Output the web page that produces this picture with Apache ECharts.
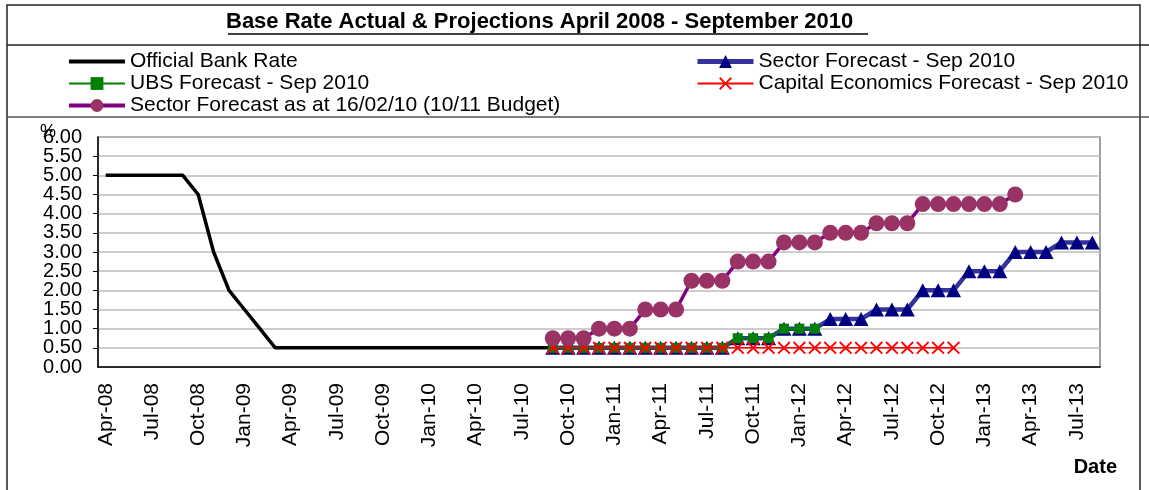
<!DOCTYPE html>
<html>
<head>
<meta charset="utf-8">
<script src="https://cdn.jsdelivr.net/npm/echarts@6/dist/echarts.min.js"></script>
<style>
html, body { margin: 0; padding: 0; background: #fff; }
#baseRateChart { width: 1149px; height: 490px; }
</style>
</head>
<body>
<div id="baseRateChart"></div>
<script>
// month categories, Apr-08 .. Aug-13
var months = [
    "Apr-08","May-08","Jun-08","Jul-08","Aug-08","Sep-08","Oct-08","Nov-08","Dec-08",
    "Jan-09","Feb-09","Mar-09","Apr-09","May-09","Jun-09","Jul-09","Aug-09","Sep-09","Oct-09","Nov-09","Dec-09",
    "Jan-10","Feb-10","Mar-10","Apr-10","May-10","Jun-10","Jul-10","Aug-10","Sep-10","Oct-10","Nov-10","Dec-10",
    "Jan-11","Feb-11","Mar-11","Apr-11","May-11","Jun-11","Jul-11","Aug-11","Sep-11","Oct-11","Nov-11","Dec-11",
    "Jan-12","Feb-12","Mar-12","Apr-12","May-12","Jun-12","Jul-12","Aug-12","Sep-12","Oct-12","Nov-12","Dec-12",
    "Jan-13","Feb-13","Mar-13","Apr-13","May-13","Jun-13","Jul-13","Aug-13"
];
var yTicks = [0, 0.5, 1, 1.5, 2, 2.5, 3, 3.5, 4, 4.5, 5, 5.5, 6];

// Official Bank Rate, from Apr-08
var bankRate = [5, 5, 5, 5, 5, 5, 4.5, 3, 2, 1.5, 1,
    0.5, 0.5, 0.5, 0.5, 0.5, 0.5, 0.5, 0.5, 0.5, 0.5, 0.5, 0.5, 0.5, 0.5, 0.5, 0.5, 0.5, 0.5, 0.5];

// forecasts, all from Sep-10
var forecastStart = "Sep-10";
var sectorSep10 = [0.5, 0.5, 0.5, 0.5, 0.5, 0.5, 0.5, 0.5, 0.5, 0.5, 0.5, 0.5,
    0.75, 0.75, 0.75, 1, 1, 1, 1.25, 1.25, 1.25, 1.5, 1.5, 1.5,
    2, 2, 2, 2.5, 2.5, 2.5, 3, 3, 3, 3.25, 3.25, 3.25];
var ubsSep10 = [0.5, 0.5, 0.5, 0.5, 0.5, 0.5, 0.5, 0.5, 0.5, 0.5, 0.5, 0.5,
    0.75, 0.75, 0.75, 1, 1, 1];
var capEconSep10 = [0.5, 0.5, 0.5, 0.5, 0.5, 0.5, 0.5, 0.5, 0.5, 0.5, 0.5, 0.5, 0.5, 0.5,
    0.5, 0.5, 0.5, 0.5, 0.5, 0.5, 0.5, 0.5, 0.5, 0.5, 0.5, 0.5, 0.5];
var sectorFeb10 = [0.75, 0.75, 0.75, 1, 1, 1, 1.5, 1.5, 1.5, 2.25, 2.25, 2.25,
    2.75, 2.75, 2.75, 3.25, 3.25, 3.25, 3.5, 3.5, 3.5, 3.75, 3.75, 3.75,
    4.25, 4.25, 4.25, 4.25, 4.25, 4.25, 4.5];

function fromMonth(start, values) {
    var i0 = months.indexOf(start);
    return values.map(function (v, i) { return [months[i0 + i], v]; });
}

var crossPath = "path://M0,1L1,0L5,4L9,0L10,1L6,5L10,9L9,10L5,6L1,10L0,9L4,5Z";
var font = "Liberation Sans";
var legendText = { fontFamily: font, fontSize: 21, lineHeight: 19, color: "#000" };
var yMin = yTicks[0], yMax = yTicks[yTicks.length - 1];
var yLabel = { margin: 16, fontSize: 20, color: "#000", fontFamily: font,
    formatter: function (v) { return v.toFixed(2); } };

var dom = document.getElementById("baseRateChart");
var myChart = echarts.init(dom);
var option = {
    animation: false,
    textStyle: { fontFamily: font, color: "#000" },
    title: {
        text: "Base Rate Actual & Projections April 2008 - September 2010",
        left: 226,
        top: 11,
        padding: 0,
        textStyle: { fontFamily: font, fontSize: 22, fontWeight: "bold", color: "#000" }
    },
    legend: [
        {
            orient: "vertical",
            left: 67, top: 51,
            padding: 0,
            itemWidth: 56, itemHeight: 16, itemGap: 1,
            textStyle: legendText,
            data: [
                { name: "Official Bank Rate", itemStyle: { opacity: 0 }, lineStyle: { width: 4 } },
                { name: "UBS Forecast - Sep 2010", lineStyle: { width: 2 } },
                { name: "Sector Forecast as at 16/02/10 (10/11 Budget)", lineStyle: { width: 4 } }
            ]
        },
        {
            orient: "vertical",
            left: 695, top: 51,
            padding: 0,
            itemWidth: 56, itemHeight: 16, itemGap: 1,
            textStyle: legendText,
            data: [
                { name: "Sector Forecast - Sep 2010", lineStyle: { width: 5 } },
                { name: "Capital Economics Forecast - Sep 2010", lineStyle: { width: 2 } }
            ]
        }
    ],
    grid: {
        left: 98, top: 137, width: 1002, height: 230,
        show: true, borderColor: "#808080", borderWidth: 1.5
    },
    xAxis: {
        type: "category",
        data: months,
        boundaryGap: true,
        name: "Date",
        nameLocation: "end",
        nameGap: 17,
        nameTextStyle: { fontFamily: font, fontSize: 20, fontWeight: "bold", color: "#000",
            align: "right", verticalAlign: "top", padding: [90, 0, 0, 0] },
        axisLine: { lineStyle: { color: "#000", width: 1.5 } },
        axisTick: { interval: 2, length: 6, alignWithLabel: false, lineStyle: { color: "#000" } },
        axisLabel: { interval: 2, rotate: 90, margin: 16, fontSize: 21, color: "#000", fontFamily: font },
        splitLine: { show: false }
    },
    yAxis: [
        {
            type: "value",
            position: "left",
            min: yMin,
            max: yMax,
            interval: yTicks[1] - yTicks[0],
            name: "%",
            nameLocation: "end",
            nameGap: 14,
            nameTextStyle: { fontFamily: font, fontSize: 18, color: "#000",
                align: "right", verticalAlign: "top", padding: [0, 42, 0, 0] },
            axisLine: { show: true, lineStyle: { color: "#000", width: 1.5 } },
            axisTick: { show: true, length: 5, lineStyle: { color: "#000" } },
            axisLabel: Object.assign({ showMinLabel: false, showMaxLabel: false }, yLabel),
            splitLine: { lineStyle: { color: "#bdbdbd", width: 1.5 } }
        },
        {
            // end labels (0.00 and 6.00) on an overlaid axis with the same scale
            type: "value",
            position: "left",
            offset: 0,
            min: yMin,
            max: yMax,
            interval: yMax - yMin,
            axisLine: { show: false },
            axisTick: { show: false },
            splitLine: { show: false },
            axisLabel: yLabel
        }
    ],
    series: [
        {
            name: "Official Bank Rate",
            type: "line",
            data: bankRate,
            symbol: "none",
            lineStyle: { color: "#000", width: 3.5 },
            itemStyle: { color: "#000" },
            z: 2
        },
        {
            name: "Sector Forecast - Sep 2010",
            type: "line",
            data: fromMonth(forecastStart, sectorSep10),
            symbol: "triangle",
            symbolSize: [15, 14],
            showAllSymbol: true,
            lineStyle: { color: "#33339a", width: 4.5 },
            itemStyle: { color: "#000080" },
            z: 3
        },
        {
            name: "UBS Forecast - Sep 2010",
            type: "line",
            data: fromMonth(forecastStart, ubsSep10),
            symbol: "rect",
            symbolSize: 10,
            showAllSymbol: true,
            lineStyle: { color: "#008000", width: 2 },
            itemStyle: { color: "#008000" },
            z: 4
        },
        {
            name: "Capital Economics Forecast - Sep 2010",
            type: "line",
            data: fromMonth(forecastStart, capEconSep10),
            symbol: crossPath,
            symbolSize: 13,
            showAllSymbol: true,
            lineStyle: { color: "#ff0000", width: 1.5 },
            itemStyle: { color: "#ff0000" },
            z: 5
        },
        {
            name: "Sector Forecast as at 16/02/10 (10/11 Budget)",
            type: "line",
            data: fromMonth(forecastStart, sectorFeb10),
            symbol: "circle",
            symbolSize: 16,
            showAllSymbol: true,
            lineStyle: { color: "#800080", width: 3.5 },
            itemStyle: { color: "#993366" },
            z: 6
        }
    ],
    graphic: [
        { type: "rect", shape: { x: 7, y: 5, width: 1133, height: 500 },
          style: { fill: "none", stroke: "#222", lineWidth: 1.5 }, silent: true },
        { type: "line", shape: { x1: 7, y1: 45, x2: 1149, y2: 45 },
          style: { stroke: "#222", lineWidth: 1.5 }, silent: true },
        { type: "line", shape: { x1: 7, y1: 117, x2: 1149, y2: 117 },
          style: { stroke: "#555", lineWidth: 1.5 }, silent: true },
        { type: "line", shape: { x1: 228, y1: 34, x2: 868, y2: 34 },
          style: { stroke: "#000", lineWidth: 1.5 }, silent: true }
    ]
};
myChart.setOption(option, true);
</script>
</body>
</html>
